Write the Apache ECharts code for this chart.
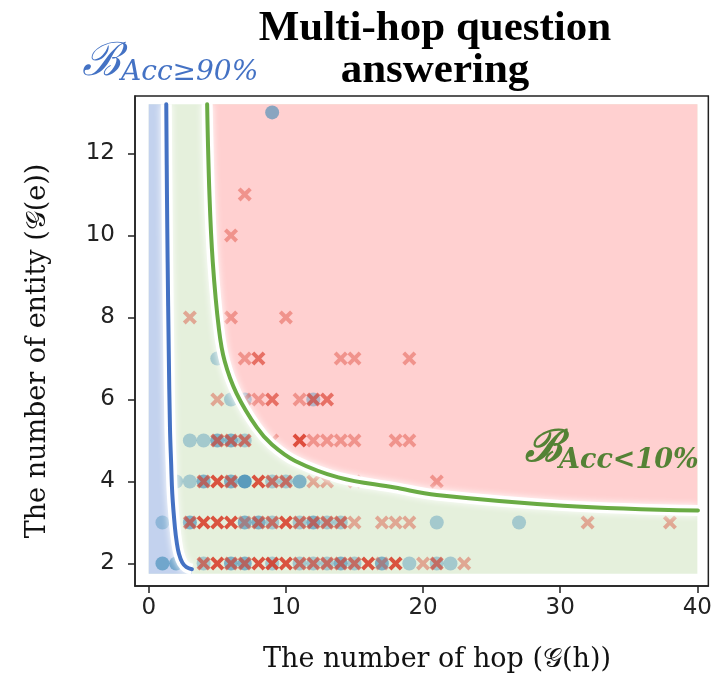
<!DOCTYPE html>
<html>
<head>
<meta charset="utf-8">
<script src="https://cdn.jsdelivr.net/npm/echarts@6/dist/echarts.min.js"></script>
<style>
  html, body { margin: 0; padding: 0; background: #fff; }
  #chart { width: 715px; height: 676px; }
</style>
</head>
<body>
<div id="chart"></div>
<script>
// Tick values on both axes
const hopTicks = [0, 10, 20, 30, 40];
const entityTicks = [2, 4, 6, 8, 10, 12];

// Correctly answered questions per cell: [hops, entities, count]
const correct = [
  [1, 2, 2], [2, 2, 2], [4, 2, 1], [6, 2, 2], [7, 2, 2], [9, 2, 1], [11, 2, 1], [12, 2, 1],
  [13, 2, 1], [14, 2, 2], [15, 2, 1], [17, 2, 2], [19, 2, 1], [21, 2, 1], [22, 2, 1],
  [1, 3, 1], [3, 3, 2], [7, 3, 2], [8, 3, 2], [9, 3, 1], [11, 3, 1], [12, 3, 2], [13, 3, 1],
  [14, 3, 1], [21, 3, 1], [27, 3, 1],
  [2, 4, 1], [3, 4, 1], [4, 4, 2], [6, 4, 2], [7, 4, 3], [9, 4, 1], [10, 4, 1], [11, 4, 2],
  [3, 5, 1], [4, 5, 1], [5, 5, 2], [6, 5, 2], [7, 5, 1],
  [6, 6, 1], [7, 6, 1], [12, 6, 1],
  [5, 7, 1],
  [9, 13, 2]
];

// Wrongly answered questions per cell: [hops, entities, count]
const wrong = [
  [4, 2, 2], [5, 2, 3], [6, 2, 2], [7, 2, 2], [8, 2, 3], [9, 2, 3], [10, 2, 3], [11, 2, 2],
  [12, 2, 2], [13, 2, 2], [14, 2, 2], [15, 2, 2], [16, 2, 3], [17, 2, 1], [18, 2, 3],
  [20, 2, 1], [21, 2, 2], [23, 2, 1],
  [3, 3, 2], [4, 3, 3], [5, 3, 3], [6, 3, 3], [7, 3, 1], [8, 3, 2], [9, 3, 2], [10, 3, 3],
  [11, 3, 2], [12, 3, 2], [13, 3, 2], [14, 3, 2], [15, 3, 1], [17, 3, 1], [18, 3, 1],
  [19, 3, 1], [32, 3, 1], [38, 3, 1],
  [4, 4, 2], [5, 4, 3], [6, 4, 2], [8, 4, 3], [9, 4, 2], [10, 4, 2], [12, 4, 1], [13, 4, 1],
  [15, 4, 1], [21, 4, 1],
  [5, 5, 2], [6, 5, 2], [7, 5, 2], [9, 5, 1], [11, 5, 3], [12, 5, 1], [13, 5, 1], [14, 5, 1],
  [15, 5, 1], [18, 5, 1], [19, 5, 1],
  [5, 6, 1], [7, 6, 1], [8, 6, 1], [9, 6, 2], [11, 6, 1], [12, 6, 2], [13, 6, 2],
  [7, 7, 1], [8, 7, 2], [14, 7, 1], [15, 7, 1], [19, 7, 1],
  [3, 8, 1], [6, 8, 1], [10, 8, 1],
  [6, 10, 1],
  [7, 11, 1]
];

// Boundary where accuracy stays at or above 90%
const boundaryHigh = [
  [1.28, 13.2], [1.33, 11.0], [1.38, 9.35], [1.46, 7.2], [1.55, 5.31], [1.64, 4.4],
  [1.72, 3.69], [1.91, 2.88], [2.05, 2.5], [2.2, 2.24], [2.45, 2.02], [2.75, 1.91], [3.15, 1.86]
];
// Boundary beyond which accuracy drops below 10%
const boundaryLow = [
  [4.26, 13.2], [4.43, 10.97], [4.67, 9.35], [5.11, 7.74], [5.54, 6.93], [6.4, 6.15],
  [7.89, 5.31], [8.98, 4.9], [10.68, 4.5], [13.82, 4.1], [17.94, 3.85], [21.0, 3.67],
  [30.2, 3.41], [40.04, 3.29]
];

// Extent of the shaded regions
const regionHops = [0, 40];
const regionEntities = [1.75, 13.2];

const TEAL = '#3a88b5';
const RED = '#d72f1c';
const BLUE = '#4472c4';
const GREEN = '#6aab44';
const LABEL_GREEN = '#548235';
const X_PATH = 'path://M0,2 L2,0 L5,3 L8,0 L10,2 L7,5 L10,8 L8,10 L5,7 L2,10 L0,8 L3,5 Z';

// More questions in a cell -> more opaque marker
function alphaOf(n) { return Math.min(0.9, 0.38 + 0.22 * (n - 1)); }

const regionColors = ['#e5f0dc', '#c3d2ee', '#ffd0d0'];

function renderRegion(params, api) {
  const i = params.dataIndex;
  let pts;
  if (i === 0) {
    pts = [[regionHops[0], regionEntities[0]], [regionHops[0], regionEntities[1]],
           [regionHops[1], regionEntities[1]], [regionHops[1], regionEntities[0]]];
  } else if (i === 1) {
    const last = boundaryHigh[boundaryHigh.length - 1];
    pts = [[regionHops[0], regionEntities[0]], [regionHops[0], regionEntities[1]]]
      .concat(boundaryHigh).concat([[last[0], regionEntities[0]]]);
  } else {
    const last = boundaryLow[boundaryLow.length - 1];
    pts = boundaryLow.slice().concat([[regionHops[1], last[1]], [regionHops[1], regionEntities[1]]]);
  }
  return {
    type: 'polygon',
    shape: { points: pts.map(p => api.coord(p)) },
    style: { fill: regionColors[i] },
    silent: true
  };
}

function haloSeries(points) {
  return {
    type: 'line', z: 4, smooth: 0.4, symbol: 'none', silent: true,
    data: points,
    lineStyle: { color: '#fff', width: 11, shadowBlur: 7, shadowColor: '#fff' }
  };
}
function curveSeries(points, color) {
  return {
    type: 'line', z: 5, smooth: 0.4, symbol: 'none', silent: true,
    data: points,
    lineStyle: { color: color, width: 4, cap: 'round' }
  };
}

const chart = echarts.init(document.getElementById('chart'), null, { renderer: 'canvas' });

const titleFont = '"Liberation Serif", serif';
const axisTitleFont = '"DejaVu Serif", serif';

chart.setOption({
  animation: false,
  grid: { left: 135, right: 6, top: 96, bottom: 90, show: true, borderColor: '#222', borderWidth: 1.5, backgroundColor: 'transparent' },
  xAxis: {
    type: 'value', min: -1, max: 40.8,
    axisLine: { show: true, onZero: false, lineStyle: { color: '#222', width: 1.5 } },
    axisTick: { show: true, length: 7, customValues: hopTicks, lineStyle: { color: '#222', width: 1.5 } },
    axisLabel: { customValues: hopTicks, fontFamily: '"DejaVu Sans"', fontSize: 23, color: '#222', margin: 11 },
    splitLine: { show: false }
  },
  yAxis: {
    type: 'value', min: 1.45, max: 13.4,
    axisLine: { show: true, onZero: false, lineStyle: { color: '#222', width: 1.5 } },
    axisTick: { show: true, length: 7, customValues: entityTicks, lineStyle: { color: '#222', width: 1.5 } },
    axisLabel: { customValues: entityTicks, fontFamily: '"DejaVu Sans"', fontSize: 23, color: '#222', margin: 20 },
    splitLine: { show: false }
  },
  series: [
    {
      type: 'custom', coordinateSystem: 'cartesian2d', z: 0, silent: true,
      renderItem: renderRegion,
      data: [[0, 2], [1, 2], [2, 2]],
      encode: { x: 0, y: 1 }
    },
    {
      type: 'scatter', z: 2, symbol: 'circle', symbolSize: 14, silent: true,
      itemStyle: { color: TEAL },
      data: correct.map(d => ({ value: [d[0], d[1]], itemStyle: { opacity: alphaOf(d[2]) } }))
    },
    {
      type: 'scatter', z: 3, symbol: X_PATH, symbolSize: 14, silent: true,
      itemStyle: { color: RED },
      data: wrong.map(d => ({ value: [d[0], d[1]], itemStyle: { opacity: alphaOf(d[2]) } }))
    },
    haloSeries(boundaryHigh),
    haloSeries(boundaryLow),
    curveSeries(boundaryHigh, BLUE),
    curveSeries(boundaryLow, GREEN)
  ],
  graphic: [
    {
      type: 'text', x: 435, y: 8, z: 10,
      style: { text: 'Multi-hop question\nanswering', font: 'bold 43px ' + titleFont, fill: '#000', align: 'center', lineHeight: 42 }
    },
    {
      type: 'text', x: 437, y: 660, z: 10,
      style: { text: 'The number of hop (𝒢(h))', font: '27px ' + axisTitleFont, fill: '#111', align: 'center', verticalAlign: 'middle' }
    },
    {
      type: 'text', x: 38, y: 351, z: 10, rotation: Math.PI / 2,
      style: { text: 'The number of entity (𝒢(e))', font: '27px ' + axisTitleFont, fill: '#111', align: 'center', verticalAlign: 'middle' }
    },
    {
      type: 'text', x: 82, y: 40, z: 10,
      style: { text: 'ℬ', font: 'italic 46px ' + axisTitleFont, fill: BLUE }
    },
    {
      type: 'text', x: 121, y: 59, z: 10,
      style: { text: 'Acc≥90%', font: 'italic 28px ' + axisTitleFont, fill: BLUE }
    },
    {
      type: 'text', x: 525, y: 428, z: 10,
      style: { text: 'ℬ', font: 'italic bold 44px ' + axisTitleFont, fill: LABEL_GREEN }
    },
    {
      type: 'text', x: 559, y: 447, z: 10,
      style: { text: 'Acc<10%', font: 'italic bold 27px ' + axisTitleFont, fill: LABEL_GREEN }
    }
  ]
});
</script>
</body>
</html>
